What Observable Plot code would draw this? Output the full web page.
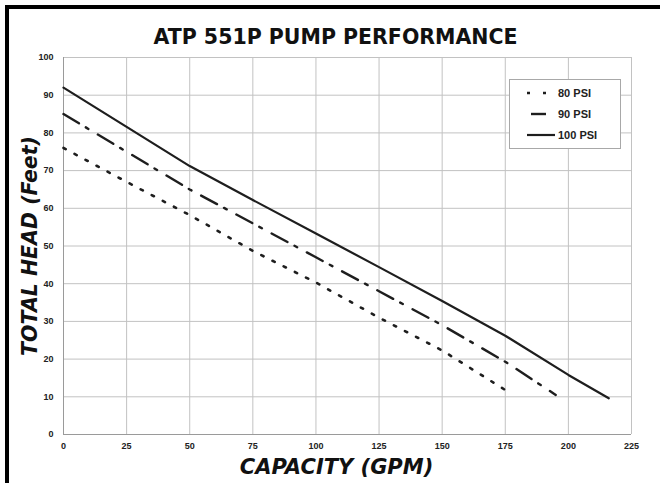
<!DOCTYPE html>
<html>
<head>
<meta charset="utf-8">
<script src="https://cdn.jsdelivr.net/npm/d3@7"></script>
<script src="https://cdn.jsdelivr.net/npm/@observablehq/plot@0.6"></script>
<style>
  html, body { margin: 0; padding: 0; background: #fff; }
  #wrap { position: relative; width: 660px; height: 483px; overflow: hidden; }
  #border { position: absolute; left: 5px; top: 5px; width: 700px; height: 500px;
            border-left: 4px solid #000; border-top: 4px solid #000; pointer-events: none; }
  #legend { position: absolute; left: 509px; top: 79px; }
</style>
</head>
<body>
<div id="wrap"><div id="chart"></div><div id="legend"></div><div id="border"></div></div>
<script>
const title = "ATP 551P PUMP PERFORMANCE";
const xLabel = "CAPACITY (GPM)";
const yLabel = "TOTAL HEAD (Feet)";
const xTicks = [0, 25, 50, 75, 100, 125, 150, 175, 200, 225];
const yTicks = [0, 10, 20, 30, 40, 50, 60, 70, 80, 90, 100];
const seriesNames = ["80 PSI", "90 PSI", "100 PSI"];

const capacity80 = [0, 25, 50, 75, 100, 125, 150, 175, 177.5];
const head80     = [76, 67, 58.2, 48.7, 40.3, 31, 22.3, 11.8, 10.5];
const capacity90 = [0, 25, 50, 75, 100, 125, 150, 175, 195];
const head90     = [85, 75, 65, 56, 47, 38, 29, 19.3, 10.5];
const capacity100 = [0, 25, 50, 75, 100, 125, 150, 175, 200, 216];
const head100     = [92, 81.6, 71.2, 62.2, 53.3, 44.4, 35.4, 26.2, 15.8, 9.6];

const rows = (xs, ys) => xs.map((x, i) => ({x, y: ys[i]}));
const styles = [
  {strokeDasharray: "2.5,10", strokeWidth: 2.6},
  {strokeDasharray: "18,8,3,11", strokeWidth: 2.4},
  {strokeDasharray: null, strokeWidth: 2.2}
];
const data = [rows(capacity80, head80), rows(capacity90, head90), rows(capacity100, head100)];
const lineColor = "#1e1e1e";
const labelFont = "'DejaVu Sans', sans-serif";

const chart = Plot.plot({
  width: 660, height: 483,
  marginLeft: 63, marginRight: 29, marginTop: 57, marginBottom: 49,
  style: {background: "white", fontFamily: "'Liberation Sans', Arial, sans-serif"},
  x: {domain: [0, 225]},
  y: {domain: [0, 100]},
  marks: [
    Plot.gridX(xTicks, {stroke: "#c2c2c2", strokeOpacity: 1, strokeWidth: 1}),
    Plot.gridY(yTicks, {stroke: "#c2c2c2", strokeOpacity: 1, strokeWidth: 1}),
    Plot.ruleX([0], {stroke: "#9a9a9a"}),
    Plot.ruleY([0], {stroke: "#9a9a9a"}),
    Plot.axisX(xTicks, {tickSize: 0, tickPadding: 8, fontWeight: "bold", fontSize: 9, color: "#222", label: null}),
    Plot.axisY(yTicks, {tickSize: 0, tickPadding: 10, fontWeight: "bold", fontSize: 9, color: "#222", label: null}),
    ...data.map((d, i) => Plot.line(d, {x: "x", y: "y", stroke: lineColor, ...styles[i]})),
    Plot.text([title], {frameAnchor: "top", dy: -20, dx: -12, lineAnchor: "middle", textAnchor: "middle",
      fontSize: 20.5, fontWeight: "bold", fontFamily: labelFont, fill: "#111"}),
    Plot.text([xLabel], {frameAnchor: "bottom", dy: 33, dx: -11, lineAnchor: "middle", textAnchor: "middle",
      fontSize: 21, fontWeight: "bold", fontStyle: "italic", fontFamily: labelFont, fill: "#111"}),
    Plot.text([yLabel], {frameAnchor: "left", dx: -33, rotate: -90, lineAnchor: "middle", textAnchor: "middle",
      fontSize: 20.5, fontWeight: "bold", fontStyle: "italic", fontFamily: labelFont, fill: "#111"})
  ]
});
document.getElementById("chart").appendChild(chart);

// Legend
const lg = d3.select("#legend").append("svg").attr("width", 112).attr("height", 70);
lg.append("rect").attr("x", 0.5).attr("y", 0.5).attr("width", 111).attr("height", 69)
  .attr("fill", "white").attr("stroke", "#a8a8a8");
const swatch = [[18, 38], [22, 37], [18, 46]];
seriesNames.forEach((name, i) => {
  const cy = 14 + i * 21;
  lg.append("line").attr("x1", swatch[i][0]).attr("x2", swatch[i][1]).attr("y1", cy).attr("y2", cy)
    .attr("stroke", lineColor).attr("stroke-width", styles[i].strokeWidth)
    .attr("stroke-dasharray", i === 0 ? "3,13" : null);
  lg.append("text").attr("x", 49).attr("y", cy).attr("dy", "0.35em")
    .attr("font-family", "'Liberation Sans', Arial, sans-serif").attr("font-weight", "bold")
    .attr("font-size", 11).attr("fill", "#222").text(name);
});
</script>
</body>
</html>
